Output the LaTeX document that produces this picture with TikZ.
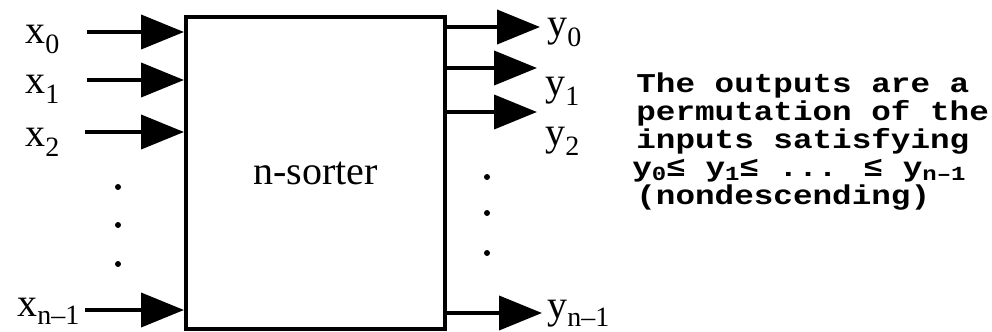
\documentclass[tikz,border=0pt]{standalone}
\usepackage{fontspec}
\setmainfont{Liberation Serif}
\newfontfamily\courfont[FakeStretch=1.2]{Liberation Mono}
\usetikzlibrary{arrows.meta}
\newcommand\lsub[1]{\raisebox{-5.5pt}{\fontsize{14}{14}\selectfont #1}}
\newcommand\lsubb[1]{\raisebox{-4pt}{\fontsize{14}{14}\selectfont #1}}
\newcommand\csub[1]{\raisebox{-2pt}{\fontsize{10}{10}\selectfont #1}}
\begin{document}
\begin{tikzpicture}[x=0.5pt,y=-0.5pt,
  sorterbox/.style={draw,line width=2pt,minimum width=129.5pt,minimum height=156pt,inner sep=0pt,font=\fontsize{20}{24}\selectfont},
  flow/.style={line width=2pt,-{Triangle[length=21.5pt,width=17pt]}},
  lbl/.style={anchor=base west,inner sep=0pt,font=\fontsize{20}{24}\selectfont},
  note/.style={anchor=base west,inner sep=0pt,font=\courfont\bfseries\fontsize{13.6}{14}\selectfont},
  dotc/.style={circle,fill,inner sep=0pt,minimum size=3pt}]
\useasboundingbox (0,0) rectangle (992,332);
\node[sorterbox] (box) at (315.5,173) {n-sorter};
% inputs
\coordinate (in0) at (87,32);
\coordinate (in1) at (87,80);
\coordinate (in2) at (85,132);
\coordinate (in3) at (85,310);
\foreach \i in {0,1,2,3} {\draw[flow] (in\i) -- (in\i -| box.west);}
\node[lbl] (x0) at (25,43) {x\lsub{0}};
\node[lbl] (x1) at (25,93) {x\lsub{1}};
\node[lbl] (x2) at (25,146) {x\lsub{2}};
\node[lbl] (x3) at (17,316) {x\lsubb{n–1}};
\node[dotc] (ld1) at (118,187) {};
\node[dotc] (ld2) at (118,225) {};
\node[dotc] (ld3) at (118,264) {};
% outputs
\coordinate (out0) at (540,27);
\coordinate (out1) at (537,68);
\coordinate (out2) at (537,112);
\coordinate (out3) at (542,313);
\foreach \i in {0,1,2,3} {\draw[flow] (out\i -| box.east) -- (out\i);}
\node[lbl] (y0) at (547,36) {y\lsub{0}};
\node[lbl] (y1) at (545,95) {y\lsub{1}};
\node[lbl] (y2) at (545,145) {y\lsub{2}};
\node[lbl] (y3) at (547,318) {y\lsubb{n–1}};
\node[dotc] (rd1) at (487,177) {};
\node[dotc] (rd2) at (487,213) {};
\node[dotc] (rd3) at (487,253) {};
% note
\node[note] (t1) at (636,92) {The outputs are a};
\node[note] (t2) at (636,120) {permutation of the};
\node[note] (t3) at (636,148) {inputs satisfying};
\node[note] (t4) at (632,176) {y\csub{0}≤ y\csub{1}≤ ... ≤ y\csub{n–1}};
\node[note] (t5) at (636,204) {(nondescending)};
\end{tikzpicture}
\end{document}
